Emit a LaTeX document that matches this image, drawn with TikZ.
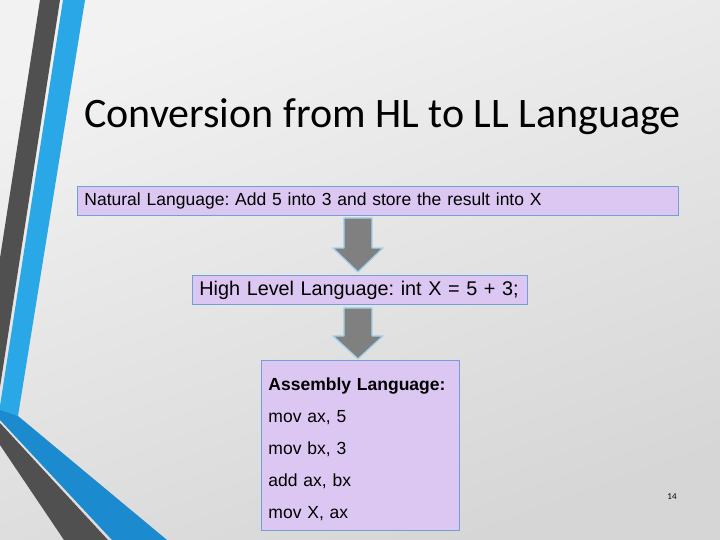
\documentclass[tikz,border=0pt]{standalone}
\usepackage{fontspec}
\setmainfont{Liberation Sans}
\newfontfamily\titlefont{Carlito}
\usepackage{tikz}
\frenchspacing

\definecolor{boxfill}{RGB}{220,198,242}
\definecolor{boxline}{RGB}{112,160,214}
\definecolor{arrowfill}{RGB}{128,128,128}
\definecolor{arrowglow}{RGB}{160,210,236}
\definecolor{stripeblue}{RGB}{41,167,230}
\definecolor{stripedeep}{RGB}{28,138,206}
\definecolor{stripedark}{RGB}{80,80,80}
\definecolor{bgtop}{RGB}{242,242,242}
\definecolor{bgbottom}{RGB}{214,214,214}

\begin{document}
\begin{tikzpicture}[
		x=1pt, y=-1pt,
		langbox/.style={rectangle, draw=boxline, fill=boxfill, line width=0.9pt, anchor=north west, inner xsep=7pt, inner ysep=0pt, align=left},
		blockarrow/.style={draw=arrowglow, fill=arrowfill, line width=1.3pt, line join=round}
	]
  \useasboundingbox (0,0) rectangle (720,540);
  \shade[top color=bgtop, bottom color=bgbottom, shading angle=20] (0,0) rectangle (720,540);
  \fill[stripedark] (40,0) -- (60,0) -- (0,387) -- (0,258) -- cycle;
  \fill[stripeblue] (63,0) -- (85,0) -- (18,416) -- (0,412) -- (0,406) -- cycle;
  \fill[stripedeep] (0,410) -- (18,416) -- (167,540) -- (112,540) -- (0,420) -- cycle;
  \fill[stripedark] (0,423) -- (108,540) -- (64,540) -- (0,445) -- cycle;

  \node (title) [anchor=west, inner sep=0pt, font=\titlefont\fontsize{42}{42}\selectfont] at (84,117) {Conversion from HL to LL Language};
  \node (nat) [langbox, minimum width=601pt, minimum height=29pt, text width=587pt, font=\fontsize{17.5}{20}\selectfont] at (77,186) {Natural Language: Add 5 into 3 and store the result into X};
  \node (high) [langbox, minimum width=335pt, minimum height=29pt, text width=321pt, font=\fontsize{19.8}{22}\selectfont] at (192,275) {High Level Language: int X = 5 + 3;};
  \node (asm) [langbox, minimum width=198pt, minimum height=170pt, text width=184pt, text height=21pt, font=\fontsize{17.5}{32}\selectfont] at (261,360)
    {\textbf{Assembly Language:}\\mov ax, 5\\mov bx, 3\\add ax, bx\\mov X, ax};
  \node (page) [inner sep=0pt, font=\titlefont\fontsize{9}{9}\selectfont] at (672,497) {14};

  \draw[blockarrow, shift={(high.north)}] (-16,-57) -- (12,-57) -- (12,-27) -- (23,-27) -- (-2,-3) -- (-27,-27) -- (-16,-27) -- cycle;
  \draw[blockarrow, shift={(high.south)}] (-16,3) -- (12,3) -- (12,31) -- (23,31) -- (-2,54) -- (-27,31) -- (-16,31) -- cycle;
\end{tikzpicture}
\end{document}
